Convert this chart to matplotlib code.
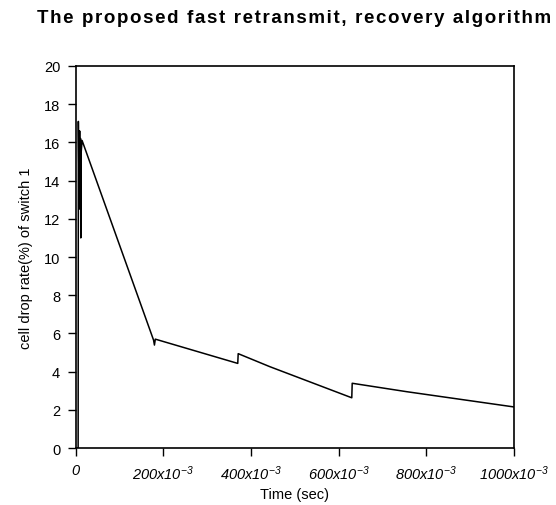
import matplotlib
matplotlib.use("Agg")
import matplotlib.pyplot as plt

plt.rcParams['font.family'] = ['Liberation Sans', 'DejaVu Sans']
plt.rcParams['mathtext.fontset'] = 'custom'
plt.rcParams['mathtext.rm'] = 'Liberation Sans:italic'
plt.rcParams['mathtext.it'] = 'Liberation Sans:italic'
plt.rcParams['mathtext.sf'] = 'Liberation Sans:italic'

time_ms = [0, 6, 6.5, 8, 9.5, 10.5, 11.5, 12, 13, 15,
           178, 180, 182, 370, 371, 443, 630, 631, 755, 1000]
drop_rate = [0, 0, 17.1, 13.5, 16.6, 12.5, 16.2, 11.0, 15.5, 16.1,
             5.65, 5.39, 5.7, 4.43, 4.94, 4.26, 2.63, 3.39, 2.95, 2.15]

x_ticks = [0, 200, 400, 600, 800, 1000]
x_labels = ['0', r'200x10$^{-3}$', r'400x10$^{-3}$', r'600x10$^{-3}$',
            r'800x10$^{-3}$', r'1000x10$^{-3}$']
y_ticks = [0, 2, 4, 6, 8, 10, 12, 14, 16, 18, 20]
title = 'The proposed fast retransmit, recovery algorithm'

fig = plt.figure(figsize=(5.56, 5.06), dpi=100)
ax = fig.add_axes([0.1358, 0.1126, 0.7887, 0.755])
ax.plot(time_ms, drop_rate, color='black', lw=1.1)
ax.set_xlim(0, 1000)
ax.set_ylim(0, 20)
ax.set_xticks(x_ticks)
ax.set_xticklabels(x_labels, fontstyle='italic', fontsize=10.5)
ax.set_yticks(y_ticks)
ax.set_yticklabels([str(v) for v in y_ticks], fontsize=10.5)
ax.tick_params(direction='out', length=6, width=1, pad=5)
for s in ax.spines.values():
    s.set_linewidth(1.2)
ax.set_xlabel('Time (sec)', fontsize=10.5, labelpad=4)
ax.set_ylabel('cell drop rate(%) of switch 1', fontsize=10.5, labelpad=8)
spaced = '\u200a'.join(title)
fig.text(0.5297, 0.964, spaced, ha='center', va='center',
         fontsize=13.5, fontweight='bold')
fig.savefig('out.png', dpi=100)
